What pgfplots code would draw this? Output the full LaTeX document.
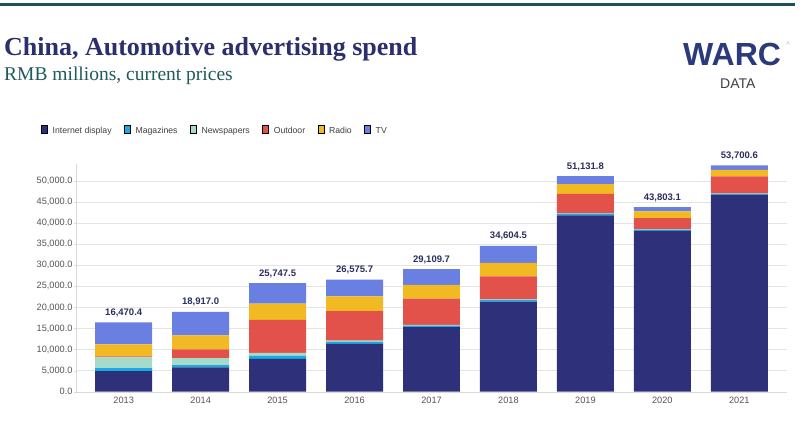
\documentclass[border=0pt]{standalone}
\usepackage{pgfplots}
\pgfplotsset{compat=1.18}
\usepackage{pgfplotstable}
\usepackage{fontspec}
\setmainfont{Liberation Sans}
\newfontfamily\seriffont{Liberation Serif}
\definecolor{cInternet}{HTML}{2E3179}
\definecolor{cMag}{HTML}{1BA8E3}
\definecolor{cNews}{HTML}{A4DBC9}
\definecolor{cOut}{HTML}{E3524A}
\definecolor{cRadio}{HTML}{F1BA22}
\definecolor{cTV}{HTML}{6A7FE2}
\definecolor{cTitle}{HTML}{2B2F6B}
\definecolor{cSub}{HTML}{1F5A5C}
\definecolor{cLine}{HTML}{1F4E5F}
\definecolor{cWarc}{HTML}{2B3A7A}
\definecolor{cTick}{HTML}{555555}
\definecolor{cGrid}{HTML}{E4E4E4}
\definecolor{cVal}{HTML}{2B2F5E}

\pgfplotstableread{
x internet magazines newspapers outdoor radio tv total label
0 4900 700 2550 250 2850 5220.4 16470.4 16,470.4
1 5750 550 1650 2100 3300 5567.0 18917.0 18,917.0
2 7800 700 700 7850 3850 4847.5 25747.5 25,747.5
3 11350 470 300 7000 3470 3985.7 26575.7 26,575.7
4 15300 390 150 6250 3280 3739.7 29109.7 29,109.7
5 21400 390 100 5450 3220 4044.5 34604.5 34,604.5
6 41850 390 100 4600 2280 1911.8 51131.8 51,131.8
7 38150 310 100 2650 1570 1023.1 43803.1 43,803.1
8 46750 240 80 4000 1560 1070.6 53700.6 53,700.6
}\data

\tikzset{sq/.style={legend image code/.code={\fill[##1] (0pt,-3pt) rectangle (6pt,3pt);}}}

\begin{document}
\begin{tikzpicture}
\useasboundingbox[fill=white] (0,0) rectangle (805pt,420pt);
\draw[cLine, line width=3pt] (0pt,415pt) -- (795pt,415pt);
\node[anchor=base west, inner sep=0pt, text=cTitle, font=\seriffont\bfseries\fontsize{26}{28}\selectfont] at (4pt,364pt) {China, Automotive advertising spend};
\node[anchor=base west, inner sep=0pt, text=cSub, font=\seriffont\fontsize{19.5}{22}\selectfont] at (4pt,339pt) {RMB millions, current prices};
\node[anchor=base west, inner sep=0pt, text=cWarc, font=\bfseries\fontsize{32}{34}\selectfont] at (683pt,354pt) {WARC};
\node[anchor=base west, inner sep=0pt, text=black!75, font=\fontsize{14}{16}\selectfont] at (720pt,331pt) {DATA};
\node[anchor=base west, inner sep=0pt, text=cSub!40, font=\fontsize{8}{8}\selectfont] at (786pt,372pt) {\textasciicircum};
\begin{axis}[
  at={(76pt,28.3pt)}, anchor=south west, scale only axis,
  width=711pt, height=227.6pt,
  ybar stacked, bar width=0.74,
  xmin=-0.62, xmax=8.62, ymin=0, ymax=54000,
  xtick={0,1,2,3,4,5,6,7,8},
  xticklabels={2013,2014,2015,2016,2017,2018,2019,2020,2021},
  ytick={0,5000,10000,15000,20000,25000,30000,35000,40000,45000,50000},
  scaled y ticks=false,
  yticklabel style={xshift=2pt, /pgf/number format/.cd, fixed, fixed zerofill, precision=1, 1000 sep={,}, assume math mode=true},
  ticklabel style={font=\fontsize{9.2}{10}\selectfont, text=cTick},
  axis x line*=bottom, axis y line*=left,
  axis line style={draw=black!15},
  ymajorgrids, grid style={draw=cGrid},
  tick align=outside, major tick length=2pt,
  ytick style={draw=black!15}, xtick style={draw=none},
  legend columns=-1,
  legend style={draw=none, fill=none, at={(-0.0534,1.145)}, anchor=west,
    font=\fontsize{8.7}{10}\selectfont, text=black!75,
    /tikz/every even column/.append style={column sep=10.5pt},
    /tikz/every odd column/.append style={column sep=3pt}},
]
\addplot[sq, fill=cInternet, draw=none] table[x=x, y=internet] {\data};
\addlegendentry{Internet display}
\addplot[sq, fill=cMag, draw=none] table[x=x, y=magazines] {\data};
\addlegendentry{Magazines}
\addplot[sq, fill=cNews, draw=none] table[x=x, y=newspapers] {\data};
\addlegendentry{Newspapers}
\addplot[sq, fill=cOut, draw=none] table[x=x, y=outdoor] {\data};
\addlegendentry{Outdoor}
\addplot[sq, fill=cRadio, draw=none] table[x=x, y=radio] {\data};
\addlegendentry{Radio}
\addplot[sq, fill=cTV, draw=none] table[x=x, y=tv] {\data};
\addlegendentry{TV}
\end{axis}
\begin{axis}[
  at={(76pt,28.3pt)}, anchor=south west, scale only axis,
  width=711pt, height=227.6pt,
  xmin=-0.62, xmax=8.62, ymin=0, ymax=54000,
  axis lines=none, clip=false,
]
\addplot[draw=none, mark=none, nodes near coords, point meta=explicit symbolic,
  every node near coord/.append style={font=\bfseries\fontsize{9.5}{10}\selectfont, text=cVal, anchor=south, yshift=2pt}]
  table[x=x, y=total, meta=label] {\data};
\end{axis}
\end{tikzpicture}
\end{document}
